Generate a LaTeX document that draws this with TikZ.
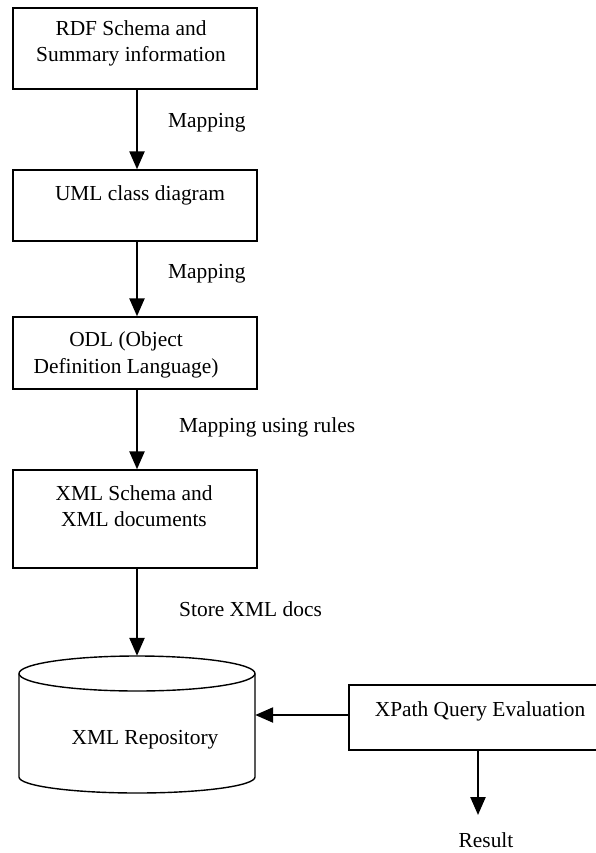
\documentclass[tikz,border=0pt]{standalone}
\usepackage{fontspec}
\setmainfont{Liberation Serif}
\usetikzlibrary{arrows.meta}
\begin{document}
\begin{tikzpicture}[x=1pt,y=-1pt,
  every node/.style={font=\fontsize{21.4}{26.5}\selectfont},
  stagebox/.style={draw, line width=1.4pt, inner sep=0pt},
  boxtext/.style={align=center, inner sep=0pt},
  flowlabel/.style={anchor=west, inner sep=0pt},
  flow/.style={line width=2.4pt, -{Triangle[length=18pt,width=15pt]}}]
\useasboundingbox (0,0) rectangle (595,853);

% processing stages
\node[stagebox, minimum width=244pt, minimum height=81pt] (b1) at (135,48.5) {};
\node[boxtext] (t1) at (131,43.5) {RDF Schema and\\Summary information};
\node[stagebox, minimum width=244pt, minimum height=71pt] (b2) at (135,205.5) {};
\node[boxtext] (t2) at (140,195) {UML class diagram};
\node[stagebox, minimum width=244pt, minimum height=72pt] (b3) at (135,353) {};
\node[boxtext] (t3) at (126,355) {ODL (Object\\Definition Language)};
\node[stagebox, minimum width=244pt, minimum height=98pt] (b4) at (135,519) {};
\node[boxtext] (t4) at (134,506) {XML Schema and\\XML documents};

% repository cylinder (outline drawn below)
\node[inner sep=0pt, minimum width=236pt, minimum height=137pt] (repo) at (137,724.5) {};
\node[boxtext] (t5) at (145,740) {XML Repository};
\draw[line width=1.4pt] (137,673.5) ellipse [x radius=118pt, y radius=17.5pt];
\draw[line width=1.4pt] (19,673.5) -- (19,777)
  arc[start angle=180, end angle=360, x radius=118pt, y radius=16pt] -- (255,673.5);

% query evaluation
\node[stagebox, minimum width=270pt, minimum height=65pt] (xq) at (484,717.5) {};
\node[boxtext] (t6) at (480,711) {XPath Query Evaluation};
\coordinate (res) at (478,815);
\node[boxtext] (t7) at (486,840.5) {Result};

% connectors
\draw[flow] ([xshift=2pt]b1.south) -- ([xshift=2pt]b2.north);
\draw[flow] ([xshift=2pt]b2.south) -- ([xshift=2pt]b3.north);
\draw[flow] ([xshift=2pt]b3.south) -- ([xshift=2pt]b4.north);
\draw[flow] ([xshift=2pt]b4.south) -- (repo.north);
\draw[flow] ([yshift=2.5pt]xq.west) -- ([yshift=2.5pt]xq.west -| repo.east);
\draw[flow] (xq.south -| res) -- (res);

% connector labels
\node[flowlabel] (l1) at (168,123) {Mapping};
\node[flowlabel] (l2) at (168,274) {Mapping};
\node[flowlabel] (l3) at (179,427) {Mapping using rules};
\node[flowlabel] (l4) at (179,609) {Store XML docs};
\end{tikzpicture}
\end{document}
